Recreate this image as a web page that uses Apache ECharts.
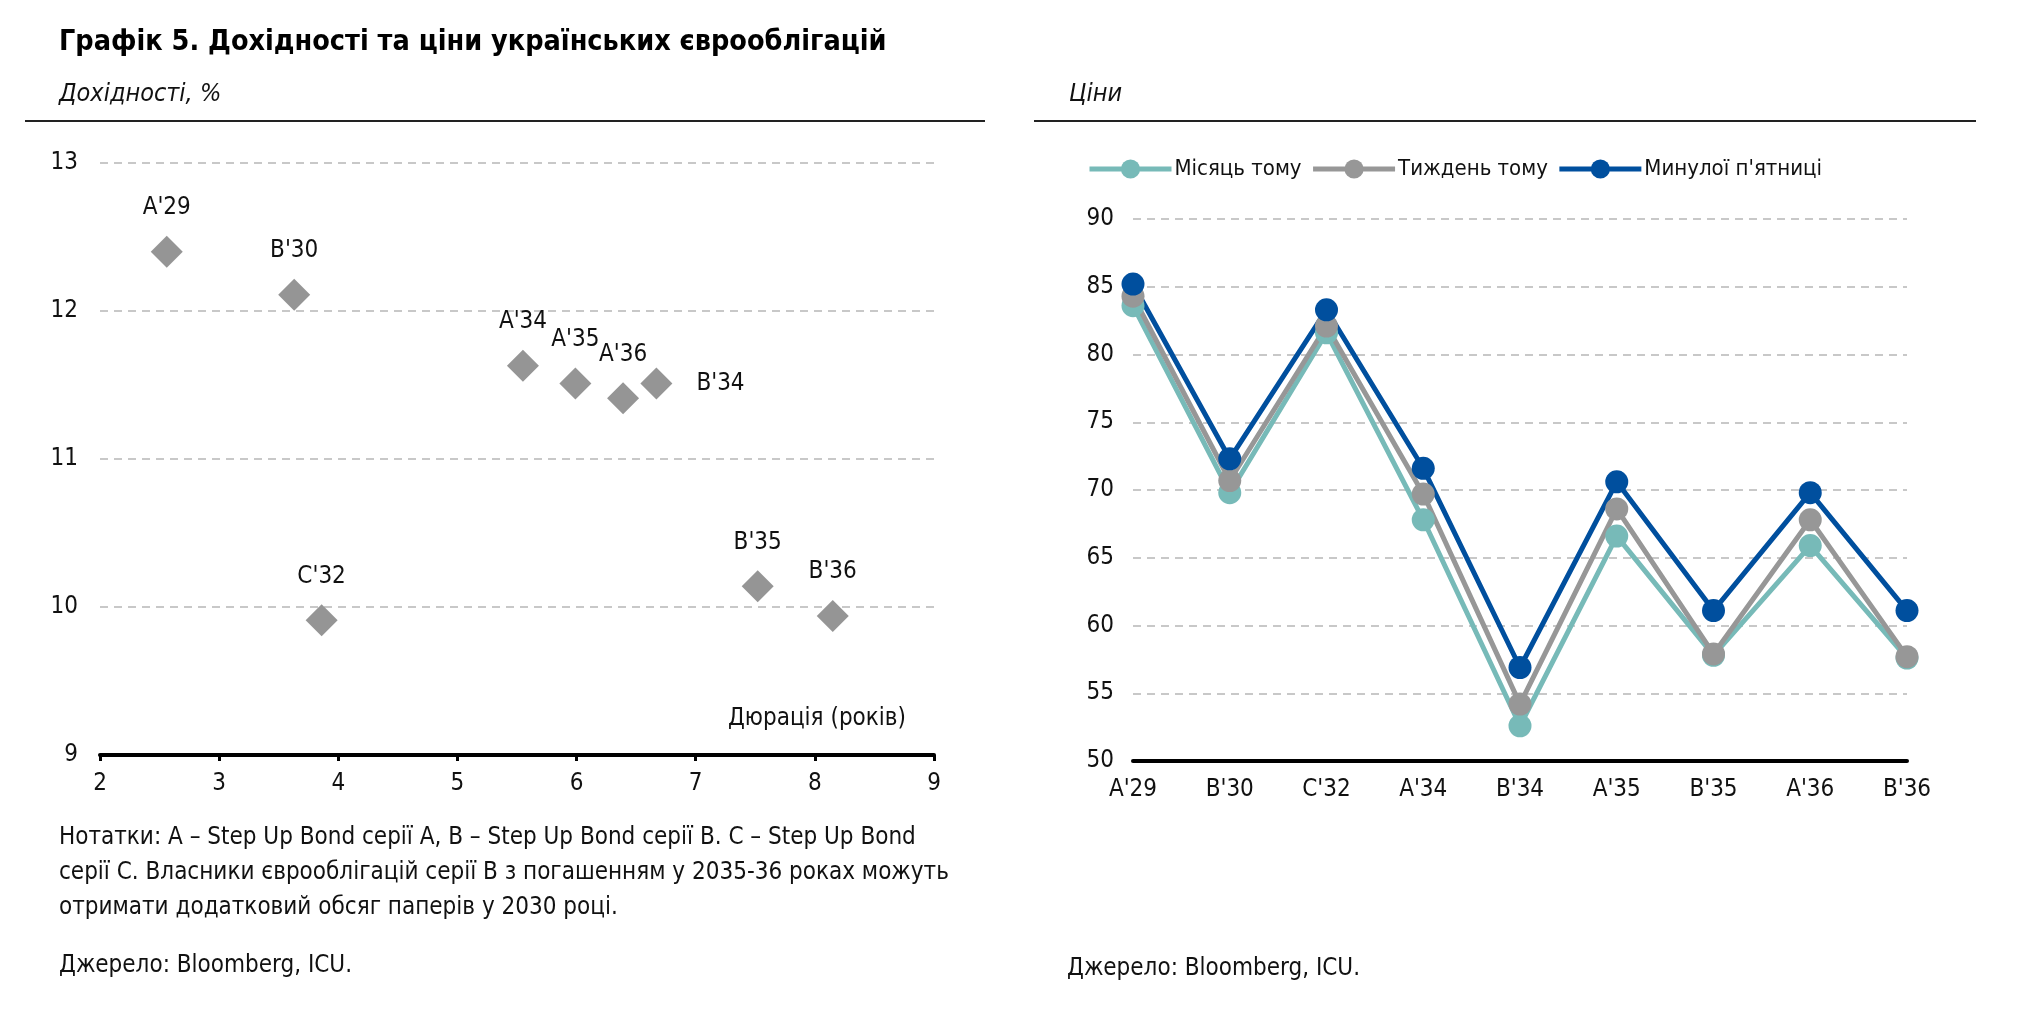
<!DOCTYPE html>
<html>
<head>
<meta charset="utf-8">
<script src="https://cdn.jsdelivr.net/npm/echarts@6/dist/echarts.min.js"></script>
<style>
  html, body { margin: 0; padding: 0; background: #fff; }
  #chart { width: 2023px; height: 1010px; }
</style>
</head>
<body>
<div id="chart"></div>
<script>
const FONT = "'Liberation Sans Narrow', 'Arial Narrow', 'DejaVu Sans Condensed', sans-serif";

// left chart: duration vs yield
const bondNames = ["A'29", "B'30", "C'32", "A'34", "A'35", "A'36", "B'34", "B'35", "B'36"];
const durations = [2.56, 3.63, 3.86, 5.55, 5.99, 6.39, 6.67, 7.52, 8.15];
const yields = [12.40, 12.11, 9.91, 11.63, 11.51, 11.41, 11.51, 10.14, 9.94];

// right chart: prices
const priceCats = ["A'29", "B'30", "C'32", "A'34", "B'34", "A'35", "B'35", "A'36", "B'36"];
const monthAgo = [83.6, 69.8, 81.6, 67.8, 52.6, 66.6, 57.8, 65.9, 57.6];
const weekAgo = [84.3, 70.7, 82.1, 69.7, 54.2, 68.6, 57.9, 67.8, 57.7];
const lastFriday = [85.2, 72.3, 83.3, 71.6, 56.9, 70.6, 61.1, 69.8, 61.1];

const seriesNames = ['Місяць тому', 'Тиждень тому', "Минулої п'ятниці"];

const chart = echarts.init(document.getElementById('chart'));

const gridLine = { show: true, lineStyle: { color: '#c8c8c8', width: 2, type: [8, 6] } };
const tickFont = { color: '#111', fontSize: 24, fontFamily: FONT };

const scatterData = durations.map((d, i) => {
  const item = { value: [d, yields[i]], name: bondNames[i] };
  if (bondNames[i] === "B'34") item.label = { position: 'right', distance: 24 };
  return item;
});

function priceLine(name, data, color, width) {
  return {
    name, type: 'line', data,
    xAxisIndex: 1, yAxisIndex: 1,
    symbol: 'circle', symbolSize: 23,
    lineStyle: { color, width },
    itemStyle: { color, opacity: 1 },
    emphasis: { disabled: true }
  };
}

const text = (x, y, str, style) => ({
  type: 'text', x, y,
  style: Object.assign({ text: str, fill: '#111', fontFamily: FONT, fontSize: 24, verticalAlign: 'middle' }, style)
});

const option = {
  animation: false,
  backgroundColor: '#fff',
  grid: [
    { left: 100, top: 163, width: 834, height: 592 },
    { left: 1133, top: 219, width: 774, height: 542 }
  ],
  legend: {
    data: seriesNames,
    left: 1082, top: 153,
    itemWidth: 82, itemHeight: 24, itemGap: 9,
    lineStyle: { width: 5 },
    textStyle: { fontSize: 22, fontFamily: FONT, color: '#111', padding: [0, 0, 0, -2] }
  },
  xAxis: [
    {
      type: 'value', gridIndex: 0, min: 2, max: 9, interval: 1,
      axisLine: { show: true, lineStyle: { color: '#000', width: 4 } },
      axisTick: { show: true, length: 6, lineStyle: { color: '#000', width: 3 } },
      axisLabel: Object.assign({ margin: 17 }, tickFont),
      splitLine: { show: false },
      name: 'Дюрація (років)', nameLocation: 'end', nameGap: -28,
      nameTextStyle: { fontSize: 24, fontFamily: FONT, color: '#111', align: 'right', verticalAlign: 'bottom', padding: [0, 0, 24, 0] }
    },
    {
      type: 'category', gridIndex: 1, data: priceCats, boundaryGap: false,
      axisLine: { show: true, lineStyle: { color: '#000', width: 4 } },
      axisTick: { show: false },
      axisLabel: Object.assign({ margin: 17 }, tickFont),
      splitLine: { show: false }
    }
  ],
  yAxis: [
    {
      type: 'value', gridIndex: 0, min: 9, max: 13, interval: 1,
      axisLine: { show: false }, axisTick: { show: false },
      axisLabel: Object.assign({ margin: 22 }, tickFont),
      splitLine: gridLine
    },
    {
      type: 'value', gridIndex: 1, min: 50, max: 90, interval: 5,
      axisLine: { show: false }, axisTick: { show: false },
      axisLabel: Object.assign({ margin: 19 }, tickFont),
      splitLine: gridLine
    }
  ],
  series: [
    {
      type: 'scatter', xAxisIndex: 0, yAxisIndex: 0,
      data: scatterData,
      symbol: 'diamond', symbolSize: [32, 32],
      itemStyle: { color: '#959595', opacity: 1 },
      label: {
        show: true, position: 'top', distance: 16,
        formatter: p => p.name,
        fontSize: 24, fontFamily: FONT, color: '#111', opacity: 1
      },
      emphasis: { disabled: true }
    },
    priceLine(seriesNames[0], monthAgo, '#77bab8', 5),
    priceLine(seriesNames[1], weekAgo, '#979797', 5),
    priceLine(seriesNames[2], lastFriday, '#004f9e', 5)
  ],
  graphic: [
    text(59, 43, 'Графік 5. Дохідності та ціни українських єврооблігацій', { fontSize: 28.5, fontWeight: 'bold', fill: '#000' }),
    text(59, 94, 'Дохідності, %', { fontSize: 25, fontStyle: 'italic' }),
    text(1069, 94, 'Ціни', { fontSize: 25, fontStyle: 'italic' }),
    { type: 'line', shape: { x1: 25, y1: 121, x2: 985, y2: 121 }, style: { stroke: '#222', lineWidth: 2 } },
    { type: 'line', shape: { x1: 1034, y1: 121, x2: 1976, y2: 121 }, style: { stroke: '#222', lineWidth: 2 } },
    text(59, 873,
      'Нотатки: A – Step Up Bond серії A, B – Step Up Bond серії B. C – Step Up Bond\n' +
      'серії C. Власники єврооблігацій серії B з погашенням у 2035-36 роках можуть\n' +
      'отримати додатковий обсяг паперів у 2030 році.',
      { lineHeight: 35 }),
    text(59, 966, 'Джерело: Bloomberg, ICU.', {}),
    text(1067, 969, 'Джерело: Bloomberg, ICU.', {})
  ]
};

chart.setOption(option);
</script>
</body>
</html>
